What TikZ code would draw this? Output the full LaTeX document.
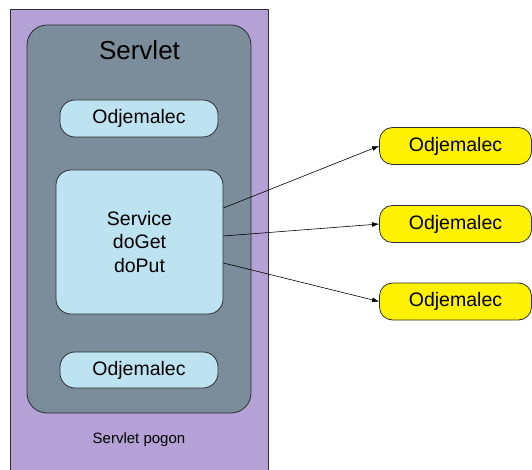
\documentclass[tikz,border=0pt]{standalone}
\usepackage{fontspec}
\setmainfont{Liberation Sans}
\usetikzlibrary{arrows.meta}

\definecolor{pogonfill}{RGB}{180,162,214}
\definecolor{servletfill}{RGB}{123,140,154}
\definecolor{boxfill}{RGB}{189,227,241}
\definecolor{edgegray}{RGB}{45,45,50}

\tikzset{
  client/.style={draw=edgegray, line width=0.8pt, fill=boxfill, rounded corners=15pt,
    minimum width=158pt, minimum height=37pt, inner sep=0pt,
    font=\fontsize{19.5}{23.4}\selectfont},
  remote/.style={client, fill=yellow, rounded corners=13pt, minimum width=152pt},
  link/.style={line width=0.6pt, -{Latex[length=7pt,width=5pt]}}
}

\begin{document}
\begin{tikzpicture}[x=1pt,y=-1pt]
\useasboundingbox (0,0) rectangle (532,470);
% engine and servlet containers
\filldraw[fill=pogonfill, draw=edgegray, line width=0.8pt] (10,9) rectangle (268,480);
\filldraw[fill=servletfill, draw=edgegray, line width=0.8pt, rounded corners=20pt] (27,25) rectangle (251,413);
\node[font=\fontsize{26}{30}\selectfont] (title) at (139.5,50) {Servlet};
\node[font=\fontsize{15}{18}\selectfont] (engine) at (139,440) {Servlet pogon};

% inside the servlet
\node[client] (c1) at (139,118.5) {Odjemalec};
\node[client, minimum width=167pt, minimum height=144pt, align=center] (svc) at (139.5,242)
  {Service\\doGet\\doPut};
\node[client, minimum height=36pt] (c2) at (139,370) {Odjemalec};

% outside clients
\node[remote] (r1) at (455.5,146) {Odjemalec};
\node[remote] (r2) at (455.5,224) {Odjemalec};
\node[remote] (r3) at (455.5,301.5) {Odjemalec};

\draw[link] ([yshift=34pt]svc.east) -- (r1.west);
\draw[link] ([yshift=6pt]svc.east) -- (r2.west);
\draw[link] ([yshift=-21pt]svc.east) -- (r3.west);
\end{tikzpicture}
\end{document}
